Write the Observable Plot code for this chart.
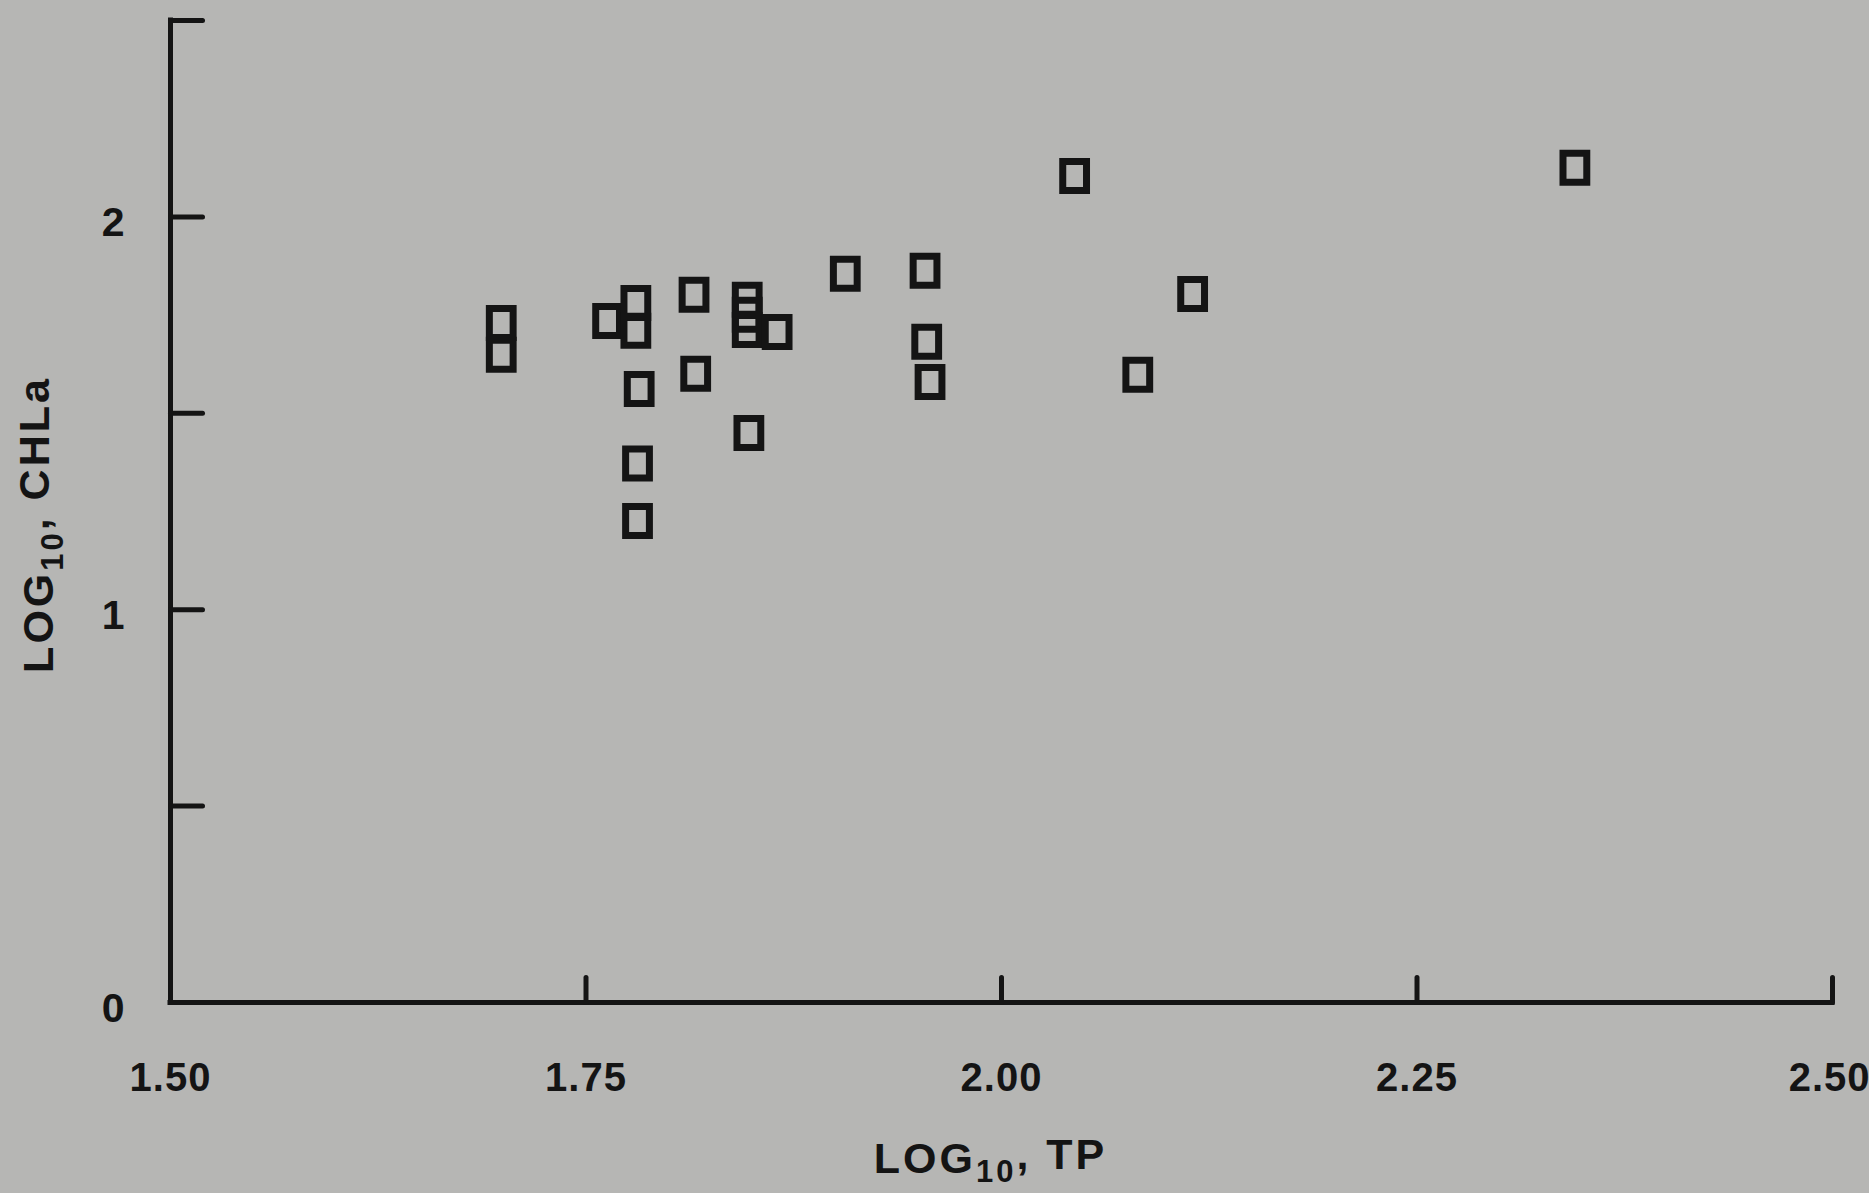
<!DOCTYPE html>
<html>
<head>
<meta charset="utf-8">
<script src="https://cdn.jsdelivr.net/npm/d3@7"></script>
<script src="https://cdn.jsdelivr.net/npm/@observablehq/plot@0.6"></script>
<style>
  html, body { margin: 0; padding: 0; background: #b6b6b4; }
  #chart svg { display: block; }
</style>
</head>
<body>
<div id="chart"></div>
<script>
// ---- data ----
const tp   = [1.699, 1.699, 1.763, 1.780, 1.780, 1.782, 1.781, 1.781, 1.815, 1.816, 1.847, 1.847, 1.847, 1.865, 1.848, 1.906, 1.954, 1.955, 1.957, 2.044, 2.082, 2.115, 2.345];
const chla = [1.730, 1.649, 1.735, 1.781, 1.710, 1.562, 1.372, 1.226, 1.802, 1.601, 1.789, 1.751, 1.712, 1.707, 1.450, 1.855, 1.863, 1.682, 1.580, 2.104, 1.598, 1.804, 2.125];

const xTickMarks  = [1.75, 2.00, 2.25, 2.50];
const xLabelVals  = [1.50, 1.75, 2.00, 2.25, 2.50];
const xTickLabels = ["1.50", "1.75", "2.00", "2.25", "2.50"];
const yTickMarks  = [0.5, 1, 1.5, 2, 2.5];
const yLabelVals  = [0, 1, 2];
const yTickLabels = ["0", "1", "2"];
const xTitle = "LOG10, TP";
const yTitle = "LOG10, CHLa";

const points = tp.map((x, i) => ({tp: x, chla: chla[i]}));

// ---- styling helpers ----
const ink = "#141414";
const font = "'Liberation Sans', Arial, Helvetica, sans-serif";
const rectSymbol = {
  draw(ctx, size) {
    const h = Math.sqrt(size / Math.PI);
    const w = h * 0.82;
    ctx.rect(-w, -h, 2 * w, 2 * h);
  }
};
const tickRight = { draw(ctx, l) { ctx.moveTo(0, 0); ctx.lineTo(l, 0); } };
const tickUp    = { draw(ctx, l) { ctx.moveTo(0, 0); ctx.lineTo(0, -l); } };

const chart = Plot.plot({
  width: 1869,
  height: 1193,
  marginLeft: 170,
  marginRight: 37,
  marginTop: 20,
  marginBottom: 191,
  x: {domain: [1.5, 2.5], axis: null},
  y: {domain: [0, 2.5], axis: null},
  style: {background: "#b6b6b4", fontFamily: font, overflow: "visible", color: ink},
  marks: [
    Plot.ruleX([1.5], {stroke: ink, strokeWidth: 5, strokeLinecap: "square"}),
    Plot.ruleY([0], {stroke: ink, strokeWidth: 5, strokeLinecap: "square"}),
    Plot.vector(yTickMarks, {x: 1.5, y: d => d, length: 32, anchor: "start", shape: tickRight, stroke: ink, strokeWidth: 5}),
    Plot.vector(xTickMarks, {x: d => d, y: 0, length: 25, anchor: "start", shape: tickUp, stroke: ink, strokeWidth: 5}),
    Plot.text(yLabelVals, {x: 1.5, y: d => d, text: (d, i) => yTickLabels[i], dx: -46, dy: 6, textAnchor: "end",
      fontSize: 41, fontWeight: "bold", fill: ink}),
    Plot.text(xLabelVals, {x: d => d, y: 0, text: (d, i) => xTickLabels[i], dy: 76,
      fontSize: 40, fontWeight: "bold", fill: ink}),
    Plot.text([xTitle], {frameAnchor: "bottom", dx: -11, dy: 170, textAnchor: "middle", fontSize: 43, fontWeight: "bold", fill: ink}),
    Plot.text([yTitle], {frameAnchor: "left", dx: -131, dy: 13, rotate: -90, textAnchor: "middle", fontSize: 43, fontWeight: "bold", fill: ink}),
    Plot.dot(points, {x: "tp", y: "chla", symbol: rectSymbol, r: 14.5, stroke: ink, strokeWidth: 7, fill: "none"})
  ]
});

// subscripts and letter spacing for the text
d3.select(chart).selectAll("text").each(function () {
  const t = this.textContent;
  const sel = d3.select(this);
  if (t === xTitle || t === yTitle) {
    const rest = t.slice(5);
    sel.text(null).attr("letter-spacing", 3);
    sel.append("tspan").text("LOG");
    sel.append("tspan").attr("dy", "0.32em").attr("font-size", "0.72em").text("10");
    sel.append("tspan").attr("dy", "-0.32em").text(rest);
  } else if (xTickLabels.includes(t)) {
    sel.attr("letter-spacing", 1);
    if (t === xTickLabels[xTickLabels.length - 1]) sel.attr("text-anchor", "end").attr("dx", 38);
  }
});

document.getElementById("chart").append(chart);
</script>
</body>
</html>
